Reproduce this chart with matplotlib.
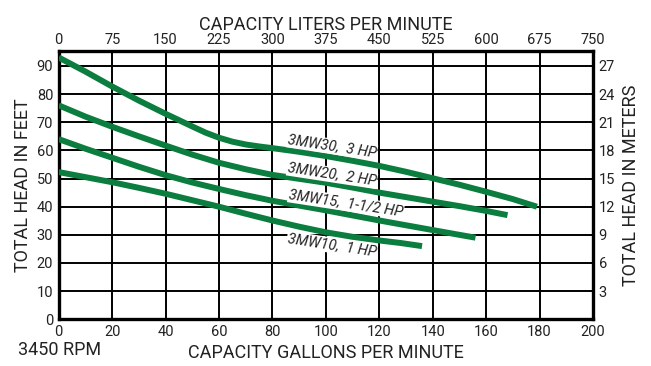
import matplotlib
matplotlib.use("Agg")
import matplotlib.pyplot as plt

# Pump performance curves (flow in GPM, head in feet)
gpm_30 = [0, 10, 20, 30, 40, 50, 55, 60, 65, 70, 75, 80, 90, 100, 110, 120, 130, 140, 150, 160, 170, 179]
head_30 = [93, 88, 82.7, 77.7, 73, 68.5, 66.3, 64.5, 63.1, 62.1, 61.4, 60.8, 59.5, 58, 56.3, 54.5, 52.4, 50.1, 47.8, 45.3, 42.7, 40]

gpm_20 = [0, 10, 20, 30, 40, 50, 60, 70, 80, 90, 100, 110, 120, 130, 140, 150, 160, 168]
head_20 = [76, 72, 68.4, 65, 61.7, 58.5, 55.6, 53.3, 51.3, 49.9, 48.5, 46.8, 45, 43.4, 41.8, 40.2, 38.5, 37]

gpm_15 = [0, 10, 20, 30, 40, 50, 60, 70, 80, 90, 100, 110, 120, 130, 140, 150, 156]
head_15 = [64, 60.6, 57.4, 54.2, 51.2, 48.6, 46.3, 44.1, 42.1, 40.4, 38.7, 36.9, 35.1, 33.4, 31.7, 30, 29]

gpm_10 = [0, 10, 20, 30, 40, 50, 60, 70, 80, 90, 100, 110, 120, 128, 136]
head_10 = [52.3, 50.5, 48.7, 46.7, 44.6, 42.3, 40, 37.5, 35.1, 32.9, 30.9, 29.3, 28, 27.1, 26]

curve_labels = ["3MW30,  3 HP", "3MW20,  2 HP", "3MW15,  1-1/2 HP", "3MW10,  1 HP"]

gpm_ticks = [0, 20, 40, 60, 80, 100, 120, 140, 160, 180, 200]
lpm_labels = ["0", "75", "150", "225", "300", "375", "450", "525", "600", "675", "750"]
feet_ticks = [0, 10, 20, 30, 40, 50, 60, 70, 80, 90]
meter_ticks = [10, 20, 30, 40, 50, 60, 70, 80, 90]
meter_labels = ["3", "6", "9", "12", "15", "18", "21", "24", "27"]

plt.rcParams["font.family"] = ["Roboto", "DejaVu Sans"]
GREEN = "#0b7d3e"
TXT = "#222222"
TICK_FS = 10.5
LABEL_FS = 13

fig = plt.figure(figsize=(6.51, 3.66), dpi=100)
ax = fig.add_axes([0.0902, 0.1276, 0.8207, 0.733])

ax.set_xlim(0, 200)
ax.set_ylim(0, 95.3)
ax.set_xticks(gpm_ticks)
ax.set_yticks(feet_ticks)
ax.grid(True, color="black", linewidth=1.4)
ax.set_axisbelow(True)
for s in ax.spines.values():
    s.set_linewidth(2.4)
    s.set_color("black")
ax.tick_params(length=0, labelsize=TICK_FS, labelcolor=TXT, pad=4)

for x, y in [(gpm_30, head_30), (gpm_20, head_20), (gpm_15, head_15), (gpm_10, head_10)]:
    ax.plot(x, y, color=GREEN, linewidth=4.3, solid_capstyle="butt",
            solid_joinstyle="round", zorder=3)

label_pos = [(102.3, 61.4), (102.3, 51.4), (107.5, 41.2), (102.3, 26.3)]
for (lx, ly), txt in zip(label_pos, curve_labels):
    ax.text(lx, ly, txt, rotation=-8.7, rotation_mode="anchor", ha="center", va="center",
            fontsize=10.5, style="italic", color=TXT, zorder=4,
            bbox=dict(boxstyle="square,pad=0.05", fc="white", ec="none"))

# Top axis: liters per minute
axt = ax.twiny()
axt.set_xlim(ax.get_xlim())
axt.set_xticks(gpm_ticks)
axt.set_xticklabels(lpm_labels)
axt.tick_params(length=0, labelsize=TICK_FS, labelcolor=TXT, pad=3)
axt.set_xlabel("CAPACITY LITERS PER MINUTE", fontsize=LABEL_FS, color=TXT, labelpad=2)
for s in axt.spines.values():
    s.set_visible(False)

# Right axis: head in meters
axr = ax.twinx()
axr.set_ylim(ax.get_ylim())
axr.set_yticks(meter_ticks)
axr.set_yticklabels(meter_labels)
axr.tick_params(length=0, labelsize=TICK_FS, labelcolor=TXT, pad=4)
axr.set_ylabel("TOTAL HEAD IN METERS", fontsize=LABEL_FS, color=TXT, labelpad=5)
for s in axr.spines.values():
    s.set_visible(False)

ax.set_xlabel("CAPACITY GALLONS PER MINUTE", fontsize=LABEL_FS, color=TXT, labelpad=4)
ax.set_ylabel("TOTAL HEAD IN FEET", fontsize=LABEL_FS, color=TXT, labelpad=3)
fig.text(0.028, 0.03, "3450 RPM", fontsize=LABEL_FS, color=TXT)

fig.savefig("out.png", dpi=100)
